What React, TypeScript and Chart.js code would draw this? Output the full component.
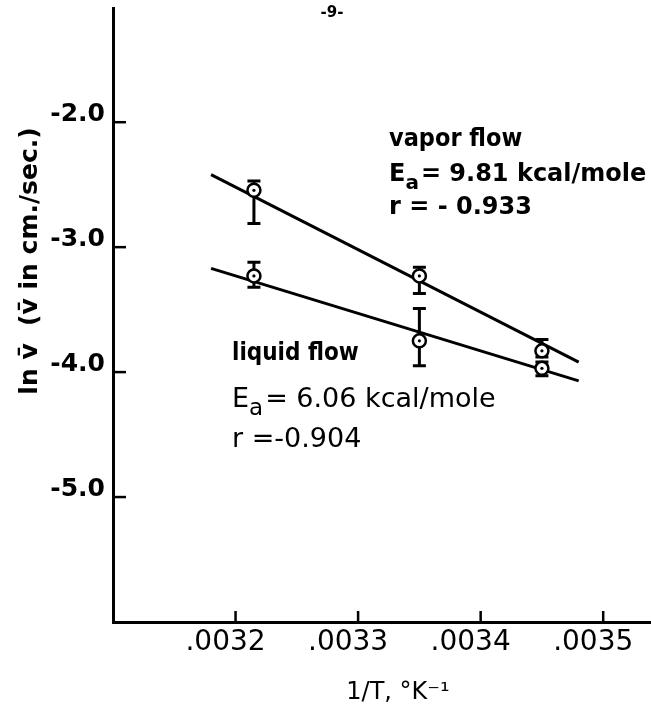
import React, { useEffect, useRef } from "react";
import { Chart, registerables } from "chart.js";

Chart.register(...registerables);

// ---- data ----
const xTicks = [0.0032, 0.0033, 0.0034, 0.0035];
const xTickLabels = [".0032", ".0033", ".0034", ".0035"];
const yTicks = [-2, -3, -4, -5];
const yTickLabels = ["-2.0", "-3.0", "-4.0", "-5.0"];

const invT = [0.003215, 0.00335, 0.00345];
const vaporLnV = [-2.545, -3.23, -3.83];
const vaporErrHigh = [-2.47, -3.16, -3.74];
const vaporErrLow = [-2.81, -3.37, -3.88];
const liquidLnV = [-3.23, -3.75, -3.97];
const liquidErrHigh = [-3.12, -3.49, -3.92];
const liquidErrLow = [-3.32, -3.95, -4.03];

const fitInvT = [0.00318, 0.00348];
const vaporFit = [-2.42, -3.92];
const liquidFit = [-3.17, -4.07];

const FONT = "'DejaVu Sans', sans-serif";
const FONT_C = "'DejaVu Sans Condensed', 'DejaVu Sans', sans-serif";

function pts(xs: number[], ys: number[]) {
  return xs.map((x, i) => ({ x, y: ys[i] }));
}

const errorBarPlugin = {
  id: "errorBars",
  beforeDatasetsDraw(chart: any) {
    const { ctx, scales } = chart;
    const xs = scales.x;
    const ys = scales.y;
    const draw = (lo: number[], hi: number[]) => {
      invT.forEach((xv, i) => {
        const px = xs.getPixelForValue(xv);
        const p1 = ys.getPixelForValue(hi[i]);
        const p2 = ys.getPixelForValue(lo[i]);
        ctx.beginPath();
        ctx.moveTo(px, p1);
        ctx.lineTo(px, p2);
        ctx.moveTo(px - 6.5, p1);
        ctx.lineTo(px + 6.5, p1);
        ctx.moveTo(px - 6.5, p2);
        ctx.lineTo(px + 6.5, p2);
        ctx.stroke();
      });
    };
    ctx.save();
    ctx.strokeStyle = "#000";
    ctx.lineWidth = 3;
    draw(vaporErrLow, vaporErrHigh);
    draw(liquidErrLow, liquidErrHigh);
    ctx.restore();
  },
};

function subText(ctx: any, x: number, y: number, main: string, sub: string, rest: string, size: number, weight: string, family: string) {
  ctx.font = `${weight} ${size}px ${family}`;
  ctx.fillText(main, x, y);
  let cx = x + ctx.measureText(main).width;
  ctx.font = `${weight} ${Math.round(size * 0.85)}px ${family}`;
  ctx.fillText(sub, cx, y + 9);
  cx += ctx.measureText(sub).width + 2;
  ctx.font = `${weight} ${size}px ${family}`;
  ctx.fillText(rest, cx, y);
}

const decorPlugin = {
  id: "decor",
  afterDraw(chart: any) {
    const { ctx, scales } = chart;
    const xs = scales.x;
    const ys = scales.y;
    ctx.save();
    ctx.strokeStyle = "#000";
    ctx.fillStyle = "#000";
    ctx.lineWidth = 2.5;
    // inward tick marks
    const bottom = ys.getPixelForValue(ys.min);
    const left = xs.getPixelForValue(xs.min);
    xTicks.forEach((v) => {
      const px = xs.getPixelForValue(v);
      ctx.beginPath();
      ctx.moveTo(px, bottom);
      ctx.lineTo(px, bottom - 11);
      ctx.stroke();
    });
    yTicks.forEach((v) => {
      const py = ys.getPixelForValue(v);
      ctx.beginPath();
      ctx.moveTo(left, py);
      ctx.lineTo(left + 13, py);
      ctx.stroke();
    });

    ctx.textBaseline = "middle";
    ctx.textAlign = "left";
    // vapor annotations
    ctx.font = `bold 25px ${FONT_C}`;
    ctx.fillText("vapor flow", 389, 139);
    subText(ctx, 389, 175, "E", "a", "= 9.81 kcal/mole", 24, "bold", FONT);
    ctx.font = `bold 24px ${FONT}`;
    ctx.fillText("r = - 0.933", 389, 208);

    // liquid annotations
    ctx.font = `bold 24px ${FONT_C}`;
    ctx.fillText("liquid flow", 232, 354);
    subText(ctx, 232, 400, "E", "a", "= 6.06 kcal/mole", 27, "normal", FONT);
    ctx.font = `normal 27px ${FONT}`;
    ctx.fillText("r =-0.904", 232, 440);

    // page number
    ctx.textAlign = "center";
    ctx.font = `bold 15px ${FONT}`;
    ctx.fillText("-9-", 332, 13);

    // x title
    ctx.font = `normal 24px ${FONT}`;
    ctx.fillText("1/T, °K\u207B\u00B9", 398, 693);

    // y title
    ctx.translate(30, 261);
    ctx.rotate(-Math.PI / 2);
    ctx.font = `bold 25px ${FONT}`;
    ctx.fillText("ln v\u0304  (v\u0304 in cm./sec.)", 0, 0);
    ctx.restore();
  },
};

export default function App() {
  const ref = useRef<HTMLCanvasElement | null>(null);
  useEffect(() => {
    if (!ref.current) return;
    const chart = new Chart(ref.current, {
      type: "scatter",
      data: {
        datasets: [
          {
            label: "dots",
            data: [...pts(invT, vaporLnV), ...pts(invT, liquidLnV)],
            pointRadius: 1.6,
            pointBackgroundColor: "#000",
            pointBorderWidth: 0,
            order: 0,
          },
          {
            label: "vapor",
            data: pts(invT, vaporLnV),
            pointRadius: 6.5,
            pointBackgroundColor: "#fff",
            pointBorderColor: "#000",
            pointBorderWidth: 2.5,
            order: 1,
          },
          {
            label: "liquid",
            data: pts(invT, liquidLnV),
            pointRadius: 6.5,
            pointBackgroundColor: "#fff",
            pointBorderColor: "#000",
            pointBorderWidth: 2.5,
            order: 1,
          },
          {
            label: "vapor fit",
            data: pts(fitInvT, vaporFit),
            showLine: true,
            borderColor: "#000",
            borderWidth: 3,
            pointRadius: 0,
            order: 2,
          },
          {
            label: "liquid fit",
            data: pts(fitInvT, liquidFit),
            showLine: true,
            borderColor: "#000",
            borderWidth: 3,
            pointRadius: 0,
            order: 2,
          },
        ],
      },
      options: {
        animation: false,
        responsive: true,
        maintainAspectRatio: false,
        layout: { autoPadding: false, padding: { top: 8, left: 0, right: 0, bottom: 0 } },
        plugins: { legend: { display: false }, tooltip: { enabled: false } },
        scales: {
          x: {
            type: "linear",
            min: 0.0031,
            max: 0.003539,
            grid: { display: false, drawTicks: false },
            border: { display: true, color: "#000", width: 3 },
            afterBuildTicks: (s: any) => {
              s.ticks = xTicks.map((v) => ({ value: v }));
            },
            afterFit: (s: any) => {
              s.height = 93;
              s.paddingLeft = 0;
              s.paddingRight = 0;
            },
            ticks: {
              color: "#000",
              padding: 4,
              labelOffset: -10,
              maxRotation: 0,
              autoSkip: false,
              font: { family: FONT, size: 28 },
              callback: (v: any) => {
                const i = xTicks.findIndex((t) => Math.abs(t - Number(v)) < 1e-7);
                return i >= 0 ? xTickLabels[i] : "";
              },
            },
          },
          y: {
            type: "linear",
            min: -6,
            max: -1.086,
            grid: { display: false, drawTicks: false },
            border: { display: true, color: "#000", width: 3 },
            afterBuildTicks: (s: any) => {
              s.ticks = yTicks.map((v) => ({ value: v }));
            },
            afterFit: (s: any) => {
              s.width = 113;
              s.paddingTop = 0;
              s.paddingBottom = 0;
            },
            ticks: {
              color: "#000",
              padding: 8,
              labelOffset: -8,
              autoSkip: false,
              font: { family: FONT, size: 25, weight: "bold" },
              callback: (v: any) => {
                const i = yTicks.findIndex((t) => Math.abs(t - Number(v)) < 1e-7);
                return i >= 0 ? yTickLabels[i] : "";
              },
            },
          },
        },
      },
      plugins: [errorBarPlugin, decorPlugin],
    });
    return () => chart.destroy();
  }, []);

  return (
    <div style={{ position: "absolute", left: 0, top: 0, width: 651, height: 715, background: "#fff" }}>
      <canvas ref={ref} />
    </div>
  );
}
